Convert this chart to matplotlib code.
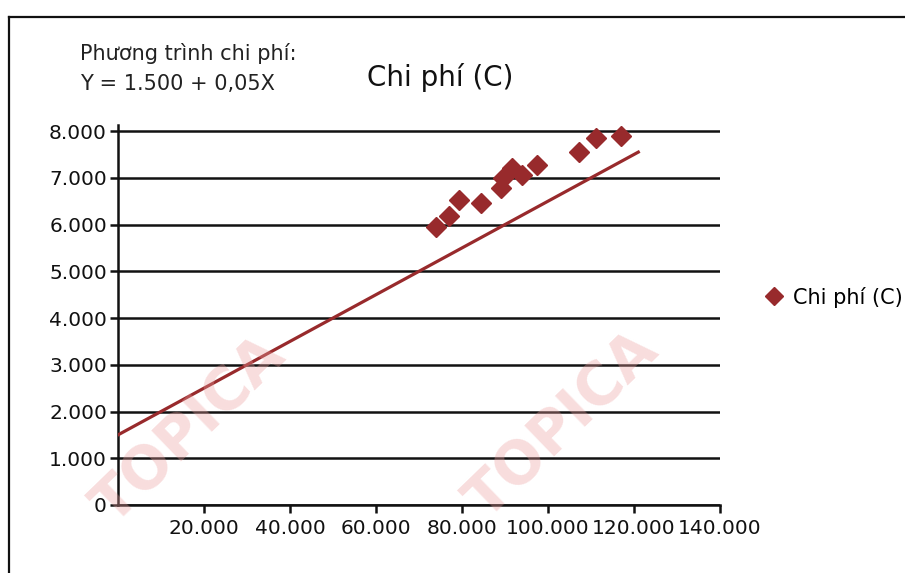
import matplotlib.pyplot as plt
from matplotlib.lines import Line2D

# Observations: activity level (X) and total cost (C)
activity = [74000, 77000, 79300, 84500, 89000, 89500, 91600, 94000, 97400, 107200, 111200, 117000]
cost = [5950, 6180, 6520, 6460, 6780, 7000, 7200, 7060, 7270, 7550, 7850, 7890]

# Cost equation Y = a + bX
intercept = 1500
slope = 0.05
line_x = [0, 121000]
line_y = [intercept + slope * x for x in line_x]

y_ticks = [0, 1000, 2000, 3000, 4000, 5000, 6000, 7000, 8000]
x_ticks = [20000, 40000, 60000, 80000, 100000, 120000, 140000]

red = '#982a2c'
W, H = 905, 573


def dots(v):
    return f"{v:,.0f}".replace(',', '.')


fig = plt.figure(figsize=(W / 100, H / 100), dpi=100)
fig.patch.set_facecolor('white')

# faint TOPICA stamps behind the chart
for cx, cy in [(190, 430), (563, 425)]:
    fig.text(cx / W, 1 - cy / H, 'TOPICA', fontsize=42, fontweight='bold',
             color='#ec9f9f', alpha=0.35, rotation=44, ha='center', va='center',
             zorder=0)

ax = fig.add_axes([118 / W, 1 - 505 / H, (720 - 118) / W, (505 - 125) / H])
ax.patch.set_alpha(0)

ax.plot(line_x, line_y, color=red, lw=2.3, zorder=3)
ax.plot(activity, cost, linestyle='none', marker='D', ms=10.5, color=red,
        label='Chi phí (C)', zorder=4)

ax.set_xlim(0, 140000)
ax.set_ylim(0, 8130)
ax.set_yticks(y_ticks)
ax.set_yticklabels([dots(v) for v in y_ticks])
ax.set_xticks(x_ticks)
ax.set_xticklabels([dots(v) for v in x_ticks])
ax.tick_params(axis='both', labelsize=14.5, colors='#111111', width=1.8,
               length=6, direction='out')
ax.tick_params(axis='y', pad=2)
ax.tick_params(axis='x', pad=4)
ax.yaxis.grid(True, color='#111111', lw=1.8)
ax.set_axisbelow(True)
for s in ['top', 'right']:
    ax.spines[s].set_visible(False)
for s in ['left', 'bottom']:
    ax.spines[s].set_linewidth(1.8)
    ax.spines[s].set_color('#111111')

fig.text(440 / W, 1 - 78 / H, 'Chi phí (C)', fontsize=20, color='#111111',
         va='center', ha='center')
fig.text(80 / W, 1 - 54 / H, 'Phương trình chi phí:', fontsize=15,
         color='#222222', va='center')
fig.text(80 / W, 1 - 84 / H, f'Y = {dots(intercept)} + {str(slope).replace(".", ",")}X',
         fontsize=15, color='#222222', va='center')

fig.legend(loc='center left', bbox_to_anchor=(764 / W, 1 - 297 / H), frameon=False,
           fontsize=15, handlelength=1.0, handletextpad=0.4, markerscale=0.9,
           borderaxespad=0, borderpad=0)

# chart area border (left and top edges)
fig.add_artist(Line2D([9 / W, 9 / W], [0, 1 - 17 / H], transform=fig.transFigure,
                      color='#111111', lw=1.6))
fig.add_artist(Line2D([9 / W, 1], [1 - 17 / H, 1 - 17 / H], transform=fig.transFigure,
                      color='#111111', lw=1.6))

fig.savefig('out.png', dpi=100)
